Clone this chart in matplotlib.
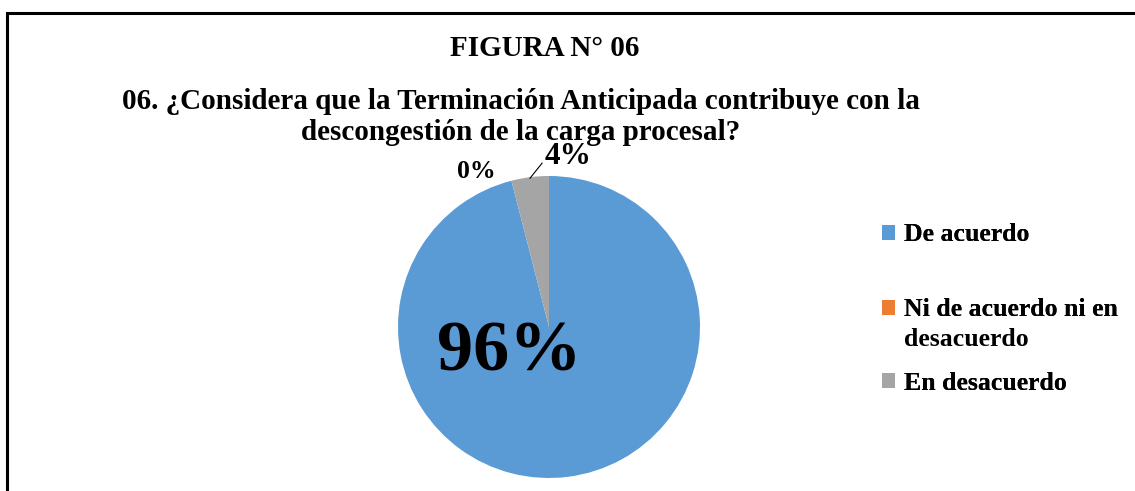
import matplotlib
matplotlib.use('Agg')
import matplotlib.pyplot as plt
from matplotlib.patches import Rectangle, Patch

plt.rcParams['font.family'] = ['Liberation Serif', 'DejaVu Serif']
plt.rcParams['font.weight'] = 'bold'

categories = ['De acuerdo', 'Ni de acuerdo ni en\ndesacuerdo', 'En desacuerdo']
values = [96, 0, 4]
colors = ['#5B9BD5', '#ED7D31', '#A5A5A5']
pct_labels = ['96%', '0%', '4%']

fig = plt.figure(figsize=(11.35, 4.91), dpi=100)

# pie axes: radius 151 px centred at (549, 327) from top-left
W, H = 1135, 491
cx, cy, r = 549, 327, 151
ax = fig.add_axes([(cx - r) / W, (H - cy - r) / H, 2 * r / W, 2 * r / H])
wedges, _ = ax.pie(values, colors=colors, startangle=90, counterclock=False,
                   radius=1, wedgeprops=dict(linewidth=0))
ax.set_xlim(-1, 1)
ax.set_ylim(-1, 1)
ax.set_aspect('equal')
ax.axis('off')

# data labels
ax.text(-0.26, -0.17, pct_labels[0], fontsize=52, ha='center', va='center')
ax.text(-0.48, 1.03, pct_labels[1], fontsize=18.5, ha='center', va='center')
ax.text(0.125, 1.13, pct_labels[2], fontsize=22.5, ha='center', va='center')
ax.plot([-0.126, -0.046], [0.985, 1.085], color='black', lw=0.8, clip_on=False)

# titles
fig.text(545 / W, 1 - 48 / H, 'FIGURA N° 06', fontsize=21, ha='center', va='center')
fig.text(521 / W, 1 - 117 / H,
         '06. ¿Considera que la Terminación Anticipada contribuye con la\n'
         'descongestión de la carga procesal?',
         fontsize=21, ha='center', va='center', linespacing=1.2)

# legend, one entry at a time to keep the uneven spacing;
# the two-line label is split so the marker sits on its first line
leg_y = [235, 310, 383]
leg_font = dict(family='Liberation Serif', weight='bold', size=18.5)
for h_col, lab, yy in zip(colors, categories, leg_y):
    first, *rest = lab.split('\n')
    leg = fig.legend([Patch(facecolor=h_col, edgecolor='none')], [first],
                     loc='center left', bbox_to_anchor=(882 / W, 1 - yy / H),
                     frameon=False, prop=leg_font,
                     handlelength=0.5, handleheight=0.5, handletextpad=0.35,
                     borderaxespad=0, borderpad=0)
    fig.add_artist(leg)
    for k, line in enumerate(rest):
        fig.text(904 / W, 1 - (yy + 29 * (k + 1)) / H, line,
                 fontsize=18.5, ha='left', va='center')

# outer border
fig.add_artist(Rectangle((7 / W, -0.2), 1.2, 1.2 - 13 / H,
                         transform=fig.transFigure, fill=False,
                         edgecolor='black', lw=2.2))

fig.savefig('out.png', dpi=100)
